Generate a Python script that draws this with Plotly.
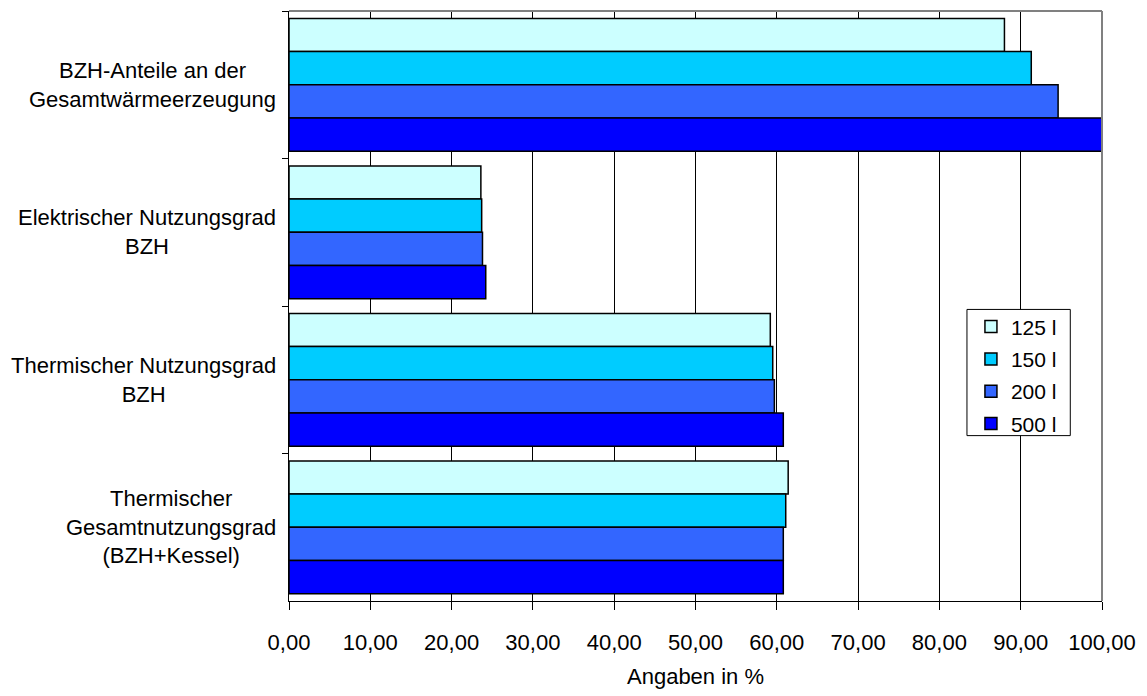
import plotly.graph_objects as go

categories = [
    "BZH-Anteile an der<br>Gesamtwärmeerzeugung",
    "Elektrischer Nutzungsgrad<br>BZH",
    "Thermischer Nutzungsgrad<br>BZH",
    "Thermischer<br>Gesamtnutzungsgrad<br>(BZH+Kessel)",
]
series_names = ["125 l", "150 l", "200 l", "500 l"]
values_125 = [88.0, 23.6, 59.2, 61.4]
values_150 = [91.3, 23.7, 59.5, 61.1]
values_200 = [94.6, 23.8, 59.7, 60.8]
values_500 = [100.0, 24.2, 60.8, 60.8]
colors = ["#CCFFFF", "#00CCFF", "#3366FF", "#0000FF"]
x_ticks = [0, 10, 20, 30, 40, 50, 60, 70, 80, 90, 100]
x_tick_labels = ["0,00", "10,00", "20,00", "30,00", "40,00", "50,00",
                 "60,00", "70,00", "80,00", "90,00", "100,00"]

FONT = "Liberation Sans, Arial, sans-serif"
FS = 22
FS_LEGEND = 21

fig = go.Figure()
for name, vals, col in zip(series_names,
                           [values_125, values_150, values_200, values_500],
                           colors):
    fig.add_trace(go.Bar(
        y=categories, x=vals, name=name, orientation="h",
        marker=dict(color=col, line=dict(color="black", width=1.5)),
        legendgroup=name,
    ))

# category labels: lines centred, block right-aligned next to the axis
for cat in categories:
    fig.add_annotation(
        x=0, xref="paper", y=cat, yref="y", text=cat,
        showarrow=False, xanchor="right", yanchor="middle", align="center",
        xshift=-11, font=dict(family=FONT, size=FS, color="black"),
    )

# legend frame (white box with black border)
fig.add_shape(type="rect", xref="paper", yref="paper",
              x0=0.8339, x1=0.961, y0=0.2803, y1=0.4942,
              line=dict(color="black", width=1), fillcolor="white", layer="above")

fig.update_layout(
    width=1147, height=696,
    margin=dict(l=289, r=39, t=11, b=82),
    paper_bgcolor="white", plot_bgcolor="white",
    barmode="group", bargap=0.1, bargroupgap=0,
    font=dict(family=FONT, size=FS, color="black"),
    legend=dict(
        x=0.8388, y=0.4992, xanchor="left", yanchor="top",
        borderwidth=0, bgcolor="rgba(0,0,0,0)",
        font=dict(family=FONT, size=FS_LEGEND, color="black"),
        traceorder="grouped", tracegroupgap=2,
        itemwidth=30,
    ),
    showlegend=True,
)
fig.update_xaxes(
    range=[0, 100], tickvals=x_ticks, ticktext=x_tick_labels,
    showgrid=True, gridcolor="black", gridwidth=1,
    showline=True, linecolor="black", linewidth=1,
    ticks="outside", ticklen=8, tickcolor="black", ticklabelstandoff=14,
    title=dict(text="Angaben in %", font=dict(family=FONT, size=FS), standoff=14),
    tickfont=dict(family=FONT, size=FS), zeroline=False,
)
fig.update_yaxes(
    autorange="reversed", showticklabels=False,
    showline=True, linecolor="black", linewidth=1,
    ticks="outside", ticklen=6, tickcolor="black", tickson="boundaries",
    showgrid=False,
)
# grey frame along the top and right of the plot area
fig.add_shape(type="line", xref="paper", yref="paper", x0=0, x1=1, y0=1, y1=1,
              line=dict(color="#808080", width=2))
fig.add_shape(type="line", xref="paper", yref="paper", x0=1, x1=1, y0=0, y1=1,
              line=dict(color="#808080", width=2))

fig.write_html("out.html")
